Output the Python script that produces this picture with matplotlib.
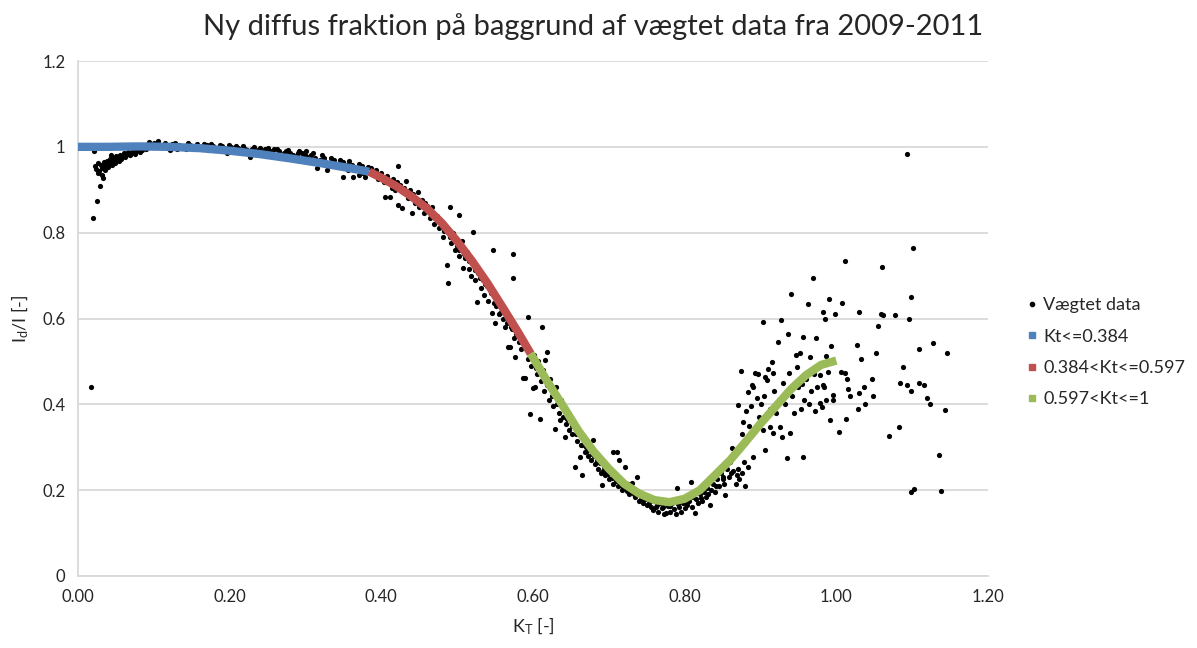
import matplotlib
matplotlib.use("Agg")
import matplotlib.pyplot as plt
from matplotlib.lines import Line2D
from matplotlib.ticker import FixedLocator, FixedFormatter

plt.rcParams['font.family'] = ['Lato', 'DejaVu Sans']
plt.rcParams['mathtext.default'] = 'regular'

title = "Ny diffus fraktion på baggrund af vægtet data fra 2009-2011"
x_label = r"K$_T$ [-]"
y_label = r"I$_d$/I [-]"
x_ticks = [0.0, 0.2, 0.4, 0.6, 0.8, 1.0, 1.2]
x_tick_labels = ["0.00", "0.20", "0.40", "0.60", "0.80", "1.00", "1.20"]
y_ticks = [0, 0.2, 0.4, 0.6, 0.8, 1.0, 1.2]
y_tick_labels = ["0", "0.2", "0.4", "0.6", "0.8", "1", "1.2"]
legend_labels = ["Vægtet data", "Kt<=0.384", "0.384<Kt<=0.597", "0.597<Kt<=1"]

# Fit curves
blue_x = [0.00, 0.04, 0.08, 0.12, 0.16, 0.20, 0.24, 0.28, 0.32, 0.36, 0.384]
blue_y = [1.000, 1.000, 1.001, 1.000, 0.997, 0.991, 0.983, 0.973, 0.962, 0.950, 0.942]
red_x = [0.384, 0.40, 0.42, 0.44, 0.46, 0.48, 0.50, 0.52, 0.54, 0.56, 0.58, 0.597]
red_y = [0.942, 0.928, 0.908, 0.884, 0.857, 0.822, 0.780, 0.733, 0.682, 0.626, 0.569, 0.518]
green_x = [0.597, 0.62, 0.64, 0.66, 0.68, 0.70, 0.72, 0.74, 0.76, 0.78, 0.80, 0.82,
           0.84, 0.86, 0.88, 0.90, 0.92, 0.94, 0.96, 0.98, 1.00]
green_y = [0.518, 0.450, 0.395, 0.338, 0.290, 0.250, 0.215, 0.192, 0.177, 0.172, 0.180, 0.200,
           0.235, 0.270, 0.312, 0.355, 0.395, 0.435, 0.468, 0.492, 0.502]

# Weighted data points, grouped by region
pts_low = [(0.017, 0.44), (0.020, 0.834), (0.025, 0.874), (0.029, 0.909), (0.031, 0.935),
           (0.033, 0.928), (0.022, 0.955), (0.024, 0.948), (0.026, 0.962), (0.028, 0.944),
           (0.030, 0.958), (0.032, 0.950), (0.034, 0.965), (0.036, 0.955), (0.038, 0.968),
           (0.040, 0.960), (0.042, 0.972), (0.044, 0.965), (0.046, 0.975), (0.048, 0.970),
           (0.050, 0.978), (0.052, 0.974), (0.055, 0.982), (0.058, 0.978), (0.060, 0.985),
           (0.063, 0.982), (0.066, 0.988), (0.070, 0.986), (0.073, 0.992), (0.076, 0.990),
           (0.080, 0.995), (0.085, 0.993), (0.088, 1.003), (0.092, 1.006), (0.096, 1.004),
           (0.100, 1.010), (0.104, 1.008), (0.108, 1.004), (0.021, 0.991), (0.027, 0.940),
           (0.035, 0.945), (0.045, 0.958), (0.054, 0.968), (0.039, 0.952), (0.043, 0.980),
           (0.049, 0.962), (0.057, 0.972), (0.062, 0.976), (0.068, 0.980), (0.075, 0.984),
           (0.082, 0.988), (0.090, 0.996), (0.098, 1.000), (0.106, 1.014), (0.094, 1.012)]
pts_blue = [(0.112, 1.000), (0.118, 0.998), (0.124, 1.006), (0.130, 0.996), (0.136, 1.002),
            (0.142, 0.994), (0.148, 1.004), (0.154, 1.000), (0.160, 0.997), (0.166, 1.006),
            (0.172, 0.993), (0.178, 1.001), (0.184, 0.996), (0.190, 1.003), (0.196, 0.992),
            (0.202, 0.999), (0.208, 1.002), (0.214, 0.990), (0.220, 0.996), (0.226, 0.984),
            (0.232, 1.000), (0.238, 0.993), (0.244, 0.988), (0.250, 0.998), (0.256, 0.986),
            (0.262, 0.995), (0.268, 0.982), (0.274, 0.991), (0.280, 0.986), (0.286, 0.976),
            (0.292, 0.990), (0.298, 0.981), (0.304, 0.972), (0.310, 0.986), (0.316, 0.965),
            (0.322, 0.980), (0.328, 0.962), (0.334, 0.975), (0.340, 0.958), (0.346, 0.970),
            (0.352, 0.950), (0.358, 0.966), (0.364, 0.945), (0.370, 0.960), (0.376, 0.940),
            (0.382, 0.952), (0.128, 1.008), (0.170, 1.004), (0.205, 0.995), (0.240, 0.997),
            (0.265, 0.990), (0.290, 0.985), (0.300, 0.990), (0.315, 0.951), (0.328, 0.946),
            (0.349, 0.930), (0.363, 0.930), (0.345, 0.960), (0.372, 0.948), (0.355, 0.958),
            (0.335, 0.966), (0.227, 0.977), (0.196, 0.985), (0.280, 0.975), (0.370, 0.935),
            (0.378, 0.930), (0.115, 1.010), (0.121, 0.993), (0.133, 1.005), (0.139, 0.997),
            (0.145, 1.008), (0.151, 0.995), (0.157, 1.006), (0.163, 0.994), (0.175, 1.007),
            (0.181, 0.992), (0.187, 1.005), (0.193, 0.998), (0.199, 1.004), (0.211, 0.997),
            (0.217, 1.002), (0.223, 0.992), (0.229, 0.996), (0.235, 0.988), (0.247, 0.994),
            (0.253, 0.990), (0.259, 0.996), (0.271, 0.986), (0.277, 0.992), (0.283, 0.982),
            (0.289, 0.978), (0.295, 0.986), (0.301, 0.978), (0.307, 0.982), (0.313, 0.974),
            (0.319, 0.970), (0.325, 0.975), (0.331, 0.956), (0.337, 0.970), (0.343, 0.952),
            (0.350, 0.965), (0.356, 0.945), (0.361, 0.958), (0.367, 0.950), (0.374, 0.955),
            (0.380, 0.945)]
pts_red = [(0.386, 0.950), (0.390, 0.935), (0.393, 0.945), (0.396, 0.925), (0.400, 0.940),
           (0.403, 0.918), (0.405, 0.883), (0.408, 0.932), (0.411, 0.883), (0.412, 0.915),
           (0.416, 0.925), (0.418, 0.900), (0.422, 0.956), (0.422, 0.865), (0.425, 0.912),
           (0.427, 0.858), (0.429, 0.895), (0.432, 0.920), (0.435, 0.880), (0.438, 0.900),
           (0.440, 0.846), (0.442, 0.890), (0.445, 0.870), (0.448, 0.895), (0.450, 0.860),
           (0.453, 0.875), (0.456, 0.845), (0.458, 0.870), (0.461, 0.850), (0.464, 0.835),
           (0.467, 0.860), (0.470, 0.820), (0.473, 0.840), (0.476, 0.810), (0.478, 0.830),
           (0.481, 0.790), (0.484, 0.815), (0.486, 0.725), (0.488, 0.683), (0.490, 0.860),
           (0.490, 0.790), (0.492, 0.775), (0.495, 0.800), (0.497, 0.760), (0.500, 0.770),
           (0.503, 0.841), (0.503, 0.745), (0.506, 0.780), (0.508, 0.718), (0.510, 0.740),
           (0.513, 0.755), (0.515, 0.715), (0.518, 0.700), (0.521, 0.802), (0.521, 0.730),
           (0.524, 0.690), (0.526, 0.639), (0.528, 0.705), (0.531, 0.670), (0.534, 0.690),
           (0.536, 0.655), (0.539, 0.675), (0.541, 0.640), (0.544, 0.660), (0.546, 0.613),
           (0.547, 0.760), (0.548, 0.635), (0.550, 0.590), (0.552, 0.645), (0.555, 0.610),
           (0.558, 0.625), (0.561, 0.600), (0.563, 0.580), (0.566, 0.590), (0.567, 0.534),
           (0.570, 0.534), (0.572, 0.575), (0.573, 0.750), (0.573, 0.695), (0.575, 0.555),
           (0.576, 0.511), (0.578, 0.565), (0.581, 0.545), (0.584, 0.530), (0.587, 0.461),
           (0.589, 0.462), (0.590, 0.540), (0.593, 0.604), (0.594, 0.505), (0.388, 0.942),
           (0.398, 0.936), (0.406, 0.922), (0.414, 0.905), (0.420, 0.918), (0.430, 0.905),
           (0.437, 0.888), (0.444, 0.880), (0.452, 0.866), (0.460, 0.862), (0.468, 0.840),
           (0.475, 0.828), (0.482, 0.805), (0.489, 0.800), (0.496, 0.782), (0.502, 0.760),
           (0.509, 0.750), (0.516, 0.735), (0.523, 0.712), (0.530, 0.695), (0.537, 0.680),
           (0.543, 0.670), (0.551, 0.630), (0.557, 0.612), (0.564, 0.605), (0.571, 0.580)]
pts_green = [(0.596, 0.378), (0.598, 0.490), (0.600, 0.438), (0.601, 0.515), (0.603, 0.441),
             (0.605, 0.470), (0.607, 0.500), (0.609, 0.366), (0.610, 0.455), (0.612, 0.580),
             (0.613, 0.480), (0.615, 0.430), (0.616, 0.503), (0.618, 0.522), (0.619, 0.445),
             (0.621, 0.410), (0.623, 0.460), (0.625, 0.420), (0.627, 0.395), (0.629, 0.343),
             (0.630, 0.440), (0.632, 0.400), (0.634, 0.380), (0.635, 0.364), (0.637, 0.410),
             (0.639, 0.370), (0.641, 0.390), (0.642, 0.324), (0.644, 0.355), (0.646, 0.375),
             (0.648, 0.340), (0.650, 0.360), (0.652, 0.330), (0.655, 0.254), (0.656, 0.345),
             (0.658, 0.315), (0.660, 0.330), (0.662, 0.277), (0.663, 0.305), (0.664, 0.235),
             (0.666, 0.320), (0.668, 0.290), (0.670, 0.300), (0.672, 0.280), (0.674, 0.295),
             (0.676, 0.270), (0.679, 0.317), (0.680, 0.280), (0.682, 0.262), (0.684, 0.275),
             (0.686, 0.250), (0.688, 0.263), (0.690, 0.240), (0.691, 0.212), (0.693, 0.255),
             (0.695, 0.235), (0.697, 0.245), (0.700, 0.225), (0.702, 0.240), (0.705, 0.289),
             (0.706, 0.215), (0.708, 0.230), (0.711, 0.289), (0.712, 0.210), (0.714, 0.270),
             (0.716, 0.220), (0.718, 0.200), (0.721, 0.254), (0.722, 0.205), (0.725, 0.215),
             (0.727, 0.190), (0.730, 0.216), (0.731, 0.200), (0.734, 0.185), (0.737, 0.231),
             (0.738, 0.195), (0.740, 0.175), (0.743, 0.190), (0.745, 0.170), (0.748, 0.180),
             (0.750, 0.165), (0.752, 0.185), (0.755, 0.160), (0.758, 0.154), (0.760, 0.175),
             (0.762, 0.160), (0.765, 0.150), (0.768, 0.170), (0.770, 0.158), (0.773, 0.145),
             (0.776, 0.147), (0.778, 0.162), (0.780, 0.150), (0.783, 0.170), (0.786, 0.155),
             (0.788, 0.145), (0.790, 0.205), (0.792, 0.160), (0.795, 0.150), (0.798, 0.170),
             (0.800, 0.158), (0.803, 0.165), (0.806, 0.175), (0.809, 0.219), (0.810, 0.160),
             (0.813, 0.147), (0.815, 0.180), (0.818, 0.170), (0.820, 0.190), (0.823, 0.175),
             (0.826, 0.195), (0.828, 0.185), (0.830, 0.205), (0.833, 0.165), (0.835, 0.200),
             (0.838, 0.215), (0.840, 0.195), (0.843, 0.225), (0.845, 0.210), (0.848, 0.240),
             (0.850, 0.231), (0.852, 0.215), (0.853, 0.189), (0.856, 0.250), (0.858, 0.230),
             (0.860, 0.265), (0.862, 0.298), (0.864, 0.245), (0.866, 0.285), (0.869, 0.235),
             (0.868, 0.215), (0.872, 0.225), (0.876, 0.240), (0.880, 0.210), (0.884, 0.255),
             (0.878, 0.265), (0.870, 0.250), (0.604, 0.485), (0.611, 0.470), (0.617, 0.455),
             (0.624, 0.435), (0.631, 0.415), (0.638, 0.395), (0.645, 0.365), (0.651, 0.350),
             (0.657, 0.330), (0.665, 0.305), (0.671, 0.292), (0.678, 0.285), (0.685, 0.268),
             (0.692, 0.245), (0.699, 0.238), (0.704, 0.228), (0.710, 0.222), (0.717, 0.210),
             (0.724, 0.198), (0.733, 0.192), (0.742, 0.180), (0.753, 0.170), (0.763, 0.165),
             (0.772, 0.160), (0.781, 0.162), (0.791, 0.168), (0.801, 0.175), (0.811, 0.185),
             (0.821, 0.182), (0.831, 0.190), (0.841, 0.210), (0.851, 0.225), (0.861, 0.240)]
pts_right = [(0.870, 0.399), (0.872, 0.300), (0.874, 0.478), (0.875, 0.330), (0.877, 0.360),
             (0.879, 0.310), (0.881, 0.385), (0.883, 0.429), (0.885, 0.350), (0.887, 0.395),
             (0.889, 0.445), (0.890, 0.277), (0.890, 0.441), (0.892, 0.340), (0.893, 0.473),
             (0.895, 0.415), (0.897, 0.471), (0.898, 0.370), (0.900, 0.400), (0.903, 0.340),
             (0.903, 0.592), (0.905, 0.420), (0.906, 0.294), (0.906, 0.464), (0.908, 0.457),
             (0.910, 0.483), (0.912, 0.347), (0.913, 0.390), (0.915, 0.499), (0.916, 0.333),
             (0.916, 0.473), (0.918, 0.430), (0.920, 0.380), (0.923, 0.545), (0.925, 0.410),
             (0.926, 0.347), (0.927, 0.597), (0.929, 0.324), (0.930, 0.450), (0.932, 0.400),
             (0.935, 0.275), (0.936, 0.564), (0.937, 0.473), (0.939, 0.333), (0.940, 0.657),
             (0.942, 0.420), (0.944, 0.380), (0.947, 0.515), (0.948, 0.487), (0.950, 0.440),
             (0.952, 0.520), (0.953, 0.390), (0.955, 0.448), (0.956, 0.557), (0.956, 0.277),
             (0.958, 0.410), (0.960, 0.460), (0.962, 0.634), (0.964, 0.400), (0.965, 0.510),
             (0.967, 0.430), (0.969, 0.694), (0.970, 0.470), (0.972, 0.385), (0.973, 0.555),
             (0.975, 0.440), (0.978, 0.469), (0.978, 0.403), (0.981, 0.394), (0.982, 0.615),
             (0.982, 0.445), (0.984, 0.440), (0.985, 0.599), (0.986, 0.410), (0.987, 0.513),
             (0.989, 0.476), (0.990, 0.646), (0.991, 0.364), (0.993, 0.536), (0.995, 0.422),
             (0.995, 0.410), (0.998, 0.611), (1.003, 0.336), (1.006, 0.476), (1.007, 0.636),
             (1.011, 0.734), (1.011, 0.473), (1.013, 0.366), (1.014, 0.459), (1.016, 0.436),
             (1.018, 0.420), (1.027, 0.538), (1.028, 0.389), (1.030, 0.615), (1.030, 0.427),
             (1.032, 0.506), (1.036, 0.440), (1.038, 0.401), (1.047, 0.459), (1.049, 0.420),
             (1.052, 0.520), (1.055, 0.583), (1.059, 0.611), (1.060, 0.720), (1.061, 0.608),
             (1.069, 0.326), (1.077, 0.608), (1.082, 0.347), (1.084, 0.450), (1.088, 0.487),
             (1.093, 0.984), (1.093, 0.445), (1.096, 0.599), (1.098, 0.650), (1.098, 0.431),
             (1.098, 0.196), (1.101, 0.765), (1.102, 0.203), (1.109, 0.529), (1.109, 0.450),
             (1.115, 0.445), (1.119, 0.415), (1.123, 0.401), (1.127, 0.543), (1.136, 0.282),
             (1.138, 0.198), (1.143, 0.387), (1.146, 0.520)]

all_pts = pts_low + pts_blue + pts_red + pts_green + pts_right
data_x = [p[0] for p in all_pts]
data_y = [p[1] for p in all_pts]

c_blue = "#4F81BD"
c_red = "#C0504D"
c_green = "#9BBB59"
grid_c = "#D9D9D9"
text_c = "#262626"

fig = plt.figure(figsize=(11.97, 6.48), dpi=100)
ax = fig.add_axes([78 / 1197, 72 / 648, 910 / 1197, 515 / 648])

ax.scatter(data_x, data_y, s=14, color="black", linewidths=0, zorder=3)
ax.plot(blue_x, blue_y, color=c_blue, lw=6, solid_capstyle="butt", zorder=4)
ax.plot(red_x, red_y, color=c_red, lw=6, solid_capstyle="butt", zorder=4)
ax.plot(green_x, green_y, color=c_green, lw=6, solid_capstyle="butt", zorder=4)

ax.set_xlim(0, 1.2)
ax.set_ylim(0, 1.2)
ax.xaxis.set_major_locator(FixedLocator(x_ticks))
ax.xaxis.set_major_formatter(FixedFormatter(x_tick_labels))
ax.yaxis.set_major_locator(FixedLocator(y_ticks))
ax.yaxis.set_major_formatter(FixedFormatter(y_tick_labels))
ax.tick_params(axis="both", length=0, labelsize=12, colors=text_c, pad=9)
ax.yaxis.grid(True, color=grid_c, lw=1.3, zorder=0)
ax.set_axisbelow(True)
for s in ["top", "right"]:
    ax.spines[s].set_visible(False)
for s in ["left", "bottom"]:
    ax.spines[s].set_color(grid_c)
    ax.spines[s].set_linewidth(1.3)

ax.set_xlabel(x_label, fontsize=13, color=text_c, labelpad=8)
ax.set_ylabel(y_label, fontsize=13, color=text_c, labelpad=8)
fig.text(593 / 1197, 1 - 27 / 648, title, ha="center", va="center", fontsize=21, color=text_c)

handles = [
    Line2D([], [], ls="", marker="o", markersize=3, color="black"),
    Line2D([], [], ls="", marker="s", markersize=5, color=c_blue),
    Line2D([], [], ls="", marker="s", markersize=5, color=c_red),
    Line2D([], [], ls="", marker="s", markersize=5, color=c_green),
]
fig.legend(handles, legend_labels, loc="upper left", bbox_to_anchor=(1010 / 1197, 1 - 281 / 648),
           frameon=False, fontsize=13, handlelength=0.6, handletextpad=0.35, labelspacing=0.85,
           labelcolor=text_c)

fig.savefig("out.png", dpi=100)
